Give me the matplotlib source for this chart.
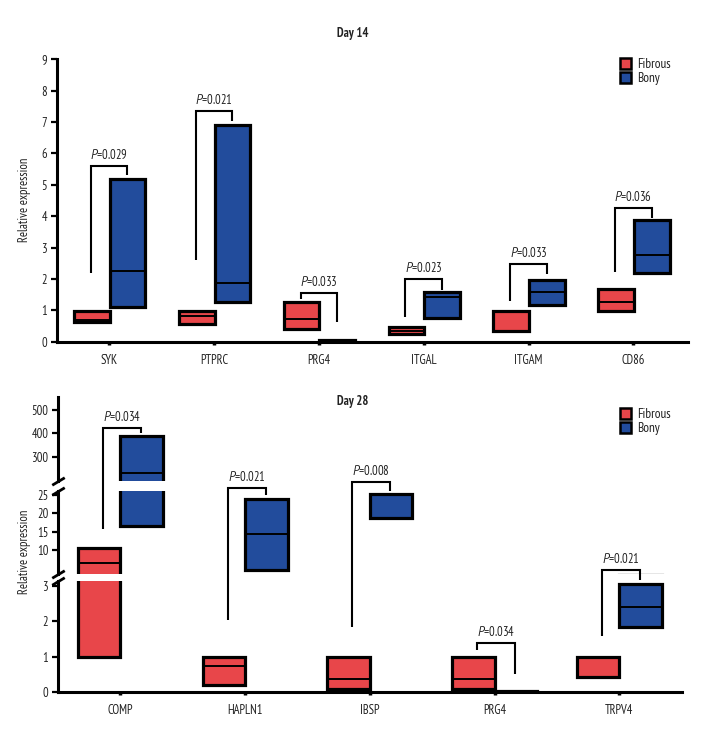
import matplotlib
matplotlib.use('Agg')
import matplotlib.pyplot as plt
from matplotlib.lines import Line2D
from matplotlib.patches import Patch
import numpy as np

plt.rcParams['font.family'] = ['PT Sans Narrow', 'Fira Sans Condensed', 'DejaVu Sans']
plt.rcParams['mathtext.fontset'] = 'custom'
plt.rcParams['mathtext.it'] = 'PT Sans:italic'
plt.rcParams['mathtext.rm'] = 'PT Sans Narrow'
plt.rcParams['text.color'] = '#222222'

# ---------------- Day 14 data ----------------
genes14 = ['SYK', 'PTPRC', 'PRG4', 'ITGAL', 'ITGAM', 'CD86']
fib14_low = [0.64, 0.58, 0.39, 0.24, 0.35, 0.98]
fib14_med = [0.69, 0.83, 0.72, 0.35, 0.99, 1.27]
fib14_high = [0.99, 0.99, 1.25, 0.46, 0.99, 1.67]
bony14_low = [1.09, 1.25, 0.0, 0.76, 1.16, 2.20]
bony14_med = [2.26, 1.86, 0.02, 1.43, 1.59, 2.75]
bony14_high = [5.18, 6.92, 0.04, 1.59, 1.96, 3.87]
p14 = ['0.029', '0.021', '0.033', '0.023', '0.033', '0.036']
brk14_left = [2.2, 2.6, 1.35, 0.8, 1.3, 2.23]
brk14_top = [5.6, 7.36, 1.56, 1.99, 2.47, 4.27]
brk14_right = [5.3, 7.03, 0.64, 1.65, 2.15, 3.95]
yticks14 = [0, 1, 2, 3, 4, 5, 6, 7, 8, 9]

# ---------------- Day 28 data ----------------
genes28 = ['COMP', 'HAPLN1', 'IBSP', 'PRG4', 'TRPV4']
fib28_low = [1.0, 0.19, 0.09, 0.09, 0.43]
fib28_med = [6.5, 0.74, 0.36, 0.36, 0.95]
fib28_high = [10.45, 1.0, 1.0, 1.0, 1.0]
bony28_low = [16.6, 4.55, 18.8, 0.0, 1.84]
bony28_med = [230, 14.4, 25.3, 0.01, 2.41]
bony28_high = [390, 23.8, 25.3, 0.03, 3.07]
p28 = ['0.034', '0.021', '0.008', '0.034', '0.021']
brk28_left = [15.6, 2.03, 1.84, 1.2, 1.58]
brk28_top = [424, 26.8, 28.6, 1.4, 3.45]
brk28_right = [400, 25.0, 26.1, 0.49, 3.17]
yticks28_low = [0, 1, 2, 3]
yticks28_mid = [10, 15, 20, 25]
yticks28_up = [300, 400, 500]

RED = '#E8464A'
BLUE = '#224C9C'
EDGE_LW = 2.3
MED_LW = 1.4
BR_LW = 1.5
SPINE_LW = 2.2
FS = 9

W, H = 720, 744
fig = plt.figure(figsize=(W / 100, H / 100), dpi=100)


def px_rect(l, t, r, b):
    return [l / W, 1 - b / H, (r - l) / W, (b - t) / H]


def draw_boxes(ax, lows, meds, highs, offset, color):
    x = np.arange(len(lows)) + offset
    lows = np.array(lows)
    highs = np.array(highs)
    ax.bar(x, highs - lows, bottom=lows, width=0.34, color=color,
           edgecolor='black', linewidth=EDGE_LW, zorder=3)
    ax.hlines(meds, x - 0.17, x + 0.17, color='black', linewidth=MED_LW, zorder=4)


def style_axis(ax, show_bottom=True):
    for s in ['top', 'right']:
        ax.spines[s].set_visible(False)
    ax.spines['left'].set_linewidth(SPINE_LW)
    ax.spines['bottom'].set_linewidth(SPINE_LW)
    if not show_bottom:
        ax.spines['bottom'].set_visible(False)
        ax.tick_params(axis='x', bottom=False, labelbottom=False)
    ax.tick_params(axis='y', direction='out', length=4, width=1.6, labelsize=FS, pad=3,
                   labelcolor='#222222')
    ax.tick_params(axis='x', direction='out', length=2.5, width=2.5, labelsize=FS, pad=6,
                   labelcolor='#222222')
    ax.set_facecolor('none')


def to_fig(ax, x, v):
    d = ax.transData.transform((x, v))
    return fig.transFigure.inverted().transform(d)


def bracket(getax, x, left, top, right, dl, dr, ptxt):
    xl, xr = x + dl, x + dr
    pts = [to_fig(getax(left), xl, left), to_fig(getax(top), xl, top),
           to_fig(getax(top), xr, top), to_fig(getax(right), xr, right)]
    pts = np.array(pts)
    fig.add_artist(Line2D(pts[:, 0], pts[:, 1], transform=fig.transFigure,
                          color='black', linewidth=BR_LW, solid_joinstyle='miter',
                          solid_capstyle='butt', zorder=5))
    cx = (pts[1, 0] + pts[2, 0]) / 2
    fig.text(cx, pts[1, 1] + 4 / H, r'$P$=' + ptxt, ha='center', va='bottom', fontsize=FS)


def legend(y_top_px):
    handles = [Patch(facecolor=RED, edgecolor='black', linewidth=1.8, label='Fibrous'),
               Patch(facecolor=BLUE, edgecolor='black', linewidth=1.8, label='Bony')]
    fig.legend(handles=handles, loc='upper left', bbox_to_anchor=(620 / W, 1 - y_top_px / H),
               frameon=False, fontsize=FS + 0.5, handlelength=0.85, handleheight=0.85,
               handletextpad=0.45, labelspacing=0.1, borderpad=0, borderaxespad=0)


# ---------------- Day 14 panel ----------------
ax1 = fig.add_axes(px_rect(56.7, 59.3, 688, 341.7))
ax1.set_xlim(-0.5, 5.52)
ax1.set_ylim(0, 9)
style_axis(ax1)
ax1.set_yticks(yticks14)
ax1.set_xticks(np.arange(len(genes14)))
ax1.set_xticklabels(genes14)
draw_boxes(ax1, fib14_low, fib14_med, fib14_high, -0.165, RED)
draw_boxes(ax1, bony14_low, bony14_med, bony14_high, 0.175, BLUE)
for i in range(len(genes14)):
    bracket(lambda v: ax1, i, brk14_left[i], brk14_top[i], brk14_right[i],
            -0.175, 0.175, p14[i])
fig.text(353 / W, 1 - 34 / H, 'Day 14', ha='center', va='center', fontsize=9, fontweight='bold')
fig.text(25 / W, 1 - 200 / H, 'Relative expression', ha='center', va='center',
         rotation=90, fontsize=FS)
legend(58)

# ---------------- Day 28 panel (broken y axis) ----------------
axL = fig.add_axes(px_rect(58, 581, 681.7, 691.7))
axM = fig.add_axes(px_rect(58, 490.5, 681.7, 573.5))
axU = fig.add_axes(px_rect(58, 397.3, 681.7, 481))
for ax, lim, ticks in [(axL, (0, 3.15), yticks28_low),
                       (axM, (3.6, 26.2), yticks28_mid),
                       (axU, (196, 555), yticks28_up)]:
    ax.set_xlim(-0.5, 4.5)
    ax.set_ylim(*lim)
    style_axis(ax, show_bottom=(ax is axL))
    ax.set_yticks(ticks)
    draw_boxes(ax, fib28_low, fib28_med, fib28_high, -0.17, RED)
    draw_boxes(ax, bony28_low, bony28_med, bony28_high, 0.17, BLUE)
axL.set_xticks(np.arange(len(genes28)))
axL.set_xticklabels(genes28)

# break marks on the y spine
kw = dict(marker=[(-1, -0.6), (1, 0.6)], markersize=9, linestyle='none',
          color='black', mec='black', mew=2.0, clip_on=False)
axU.plot([0], [0], transform=axU.transAxes, **kw)
axM.plot([0], [1], transform=axM.transAxes, **kw)
axM.plot([0], [0], transform=axM.transAxes, **kw)
axL.plot([0], [1], transform=axL.transAxes, **kw)


def ax28(v):
    if v > 100:
        return axU
    if v > 3.5:
        return axM
    return axL


for i in range(len(genes28)):
    bracket(ax28, i, brk28_left[i], brk28_top[i], brk28_right[i],
            -0.14, 0.165, p28[i])

fig.text(353 / W, 1 - 402 / H, 'Day 28', ha='center', va='center', fontsize=9, fontweight='bold')
fig.text(25 / W, 1 - 552 / H, 'Relative expression', ha='center', va='center',
         rotation=90, fontsize=FS)
legend(408)

fig.savefig('out.png', dpi=100, facecolor='white')
